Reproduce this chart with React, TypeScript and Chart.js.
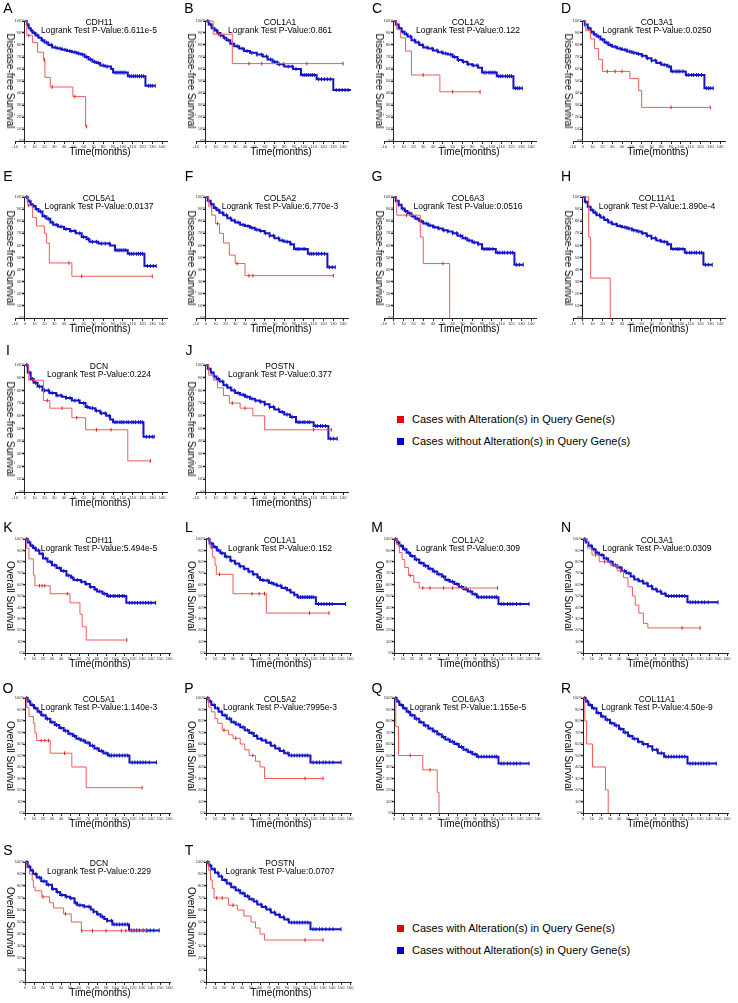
import React, { useEffect, useRef } from "react";
import { Chart, registerables } from "chart.js";
Chart.register(...registerables);

// ---------- tick labels ----------
const dfsXTicks = [-10, 0, 10, 20, 30, 40, 50, 60, 70, 80, 90, 100, 110, 120, 130, 140];
const osXTicks = [0, 10, 20, 30, 40, 50, 60, 70, 80, 90, 100, 110, 120, 130, 140, 150, 160];
const yTicks = [0, 10, 20, 30, 40, 50, 60, 70, 80, 90, 100];

// ---------- panel texts ----------
const letters = ["A","B","C","D","E","F","G","H","I","J","K","L","M","N","O","P","Q","R","S","T"];
const genes = ["CDH11","COL1A1","COL1A2","COL3A1","COL5A1","COL5A2","COL6A3","COL11A1","DCN","POSTN",
  "CDH11","COL1A1","COL1A2","COL3A1","COL5A1","COL5A2","COL6A3","COL11A1","DCN","POSTN"];
const pValues = ["6.611e-5","0.861","0.122","0.0250","0.0137","6.770e-3","0.0516","1.890e-4","0.224","0.377",
  "5.494e-5","0.152","0.309","0.0309","1.140e-3","7995e-3","1.155e-5","4.50e-9","0.229","0.0707"];
const legendLabels = ["Cases with Alteration(s) in Query Gene(s)", "Cases without Alteration(s) in Query Gene(s)"];

// ---------- curves: [time(months), survival %] ; censor times ----------
const A_red = [[0,100],[2,88],[8,82],[13,74],[19,67.5],[20.5,53],[26,45],[49,37],[62,12],[63,12]];
const A_redC = [4,20,28,51,63];
const A_blue = [[0,100],[2,97],[4,94],[6,92],[8,90],[11,88],[14,86],[17,84],[20,82],[24,80],[28,78],[33,77],[38,76],[43,75],[48,74],[53,73],[57,72],[61,70],[65,68],[69,66],[73,65],[77,63],[82,62],[88,60],[90,57],[105,54],[123,46],[133,46]];
const A_blueC = [3,7,10,13,18,22,27,31,36,41,46,51,55,59,63,67,71,75,80,84,92,94,96,98,100,102,107,109,111,113,115,117,119,121,126,128,130,133];

const B_red = [[0,100],[7.5,89],[27,64.5],[140,64.5]];
const B_redC = [13,44,57,103,140];
const B_blue = [[0,100],[3,97],[6,94],[9,92],[12,90],[15,88],[18,86],[21,84],[25,81],[29,79],[34,77],[39,75],[45,73.5],[52,72],[58,70.5],[63,68],[68,66],[73,64],[80,62],[89,60],[97,55],[113,51.5],[130,42.5],[148,42.5]];
const B_blueC = [2,5,8,11,15,19,23,27,32,37,42,47,52,57,62,66,70,75,79,84,88,92,99,101,103,105,107,109,111,115,118,121,124,127,133,136,139,142,145,148];

const C_red = [[0,100],[3,93],[7,86],[12,75],[18,55],[47,41],[88,41]];
const C_redC = [30,60,88];
const C_blue = [[0,100],[2,97],[5,94],[8,91],[11,89],[14,87],[18,84],[22,82],[26,80],[30,78],[35,77],[40,75.5],[45,74],[50,73],[55,72],[60,70],[65,67.5],[70,66],[75,64],[80,63],[86,61],[90,57],[105,54],[122,44],[131,44]];
const C_blueC = [3,6,9,13,17,21,25,29,34,39,44,49,53,58,62,66,71,76,81,85,92,94,97,99,101,103,107,109,111,114,116,118,120,124,126,128,131];

const D_red = [[0,100],[3,92],[8,85],[12,77],[16,68],[20,58],[48,52],[57,42],[60,28],[130,28]];
const D_redC = [25,33,40,90,130];
const D_blue = [[0,100],[2,97],[5,94],[8,91],[11,89],[14,87],[18,84.5],[22,82],[26,80],[30,78.5],[35,77],[40,76],[45,74.5],[50,73.5],[55,72.5],[60,71],[65,69],[70,67],[75,65],[80,63.5],[86,62],[90,58],[105,55],[124,44],[133,44]];
const D_blueC = [2,6,9,12,16,20,24,28,33,38,43,48,52,57,61,66,70,74,79,83,88,92,95,97,99,102,106,108,111,113,116,118,121,126,128,130,133];

const E_red = [[0,100],[3,93],[8,83],[12,76],[20,70],[22,62],[25,45.5],[48,34.5],[130,34.5]];
const E_redC = [4,45,58,130];
const E_blue = [[0,100],[3,96.5],[6,94],[8,92.5],[11,90],[14,88],[18,84],[22,82],[26,79],[29,77],[34,75.5],[40,73.5],[46,72],[52,70],[58,67],[63,65],[66,63],[75,61.5],[87,60],[92,56],[105,53],[122,43],[134,43]];
const E_blueC = [2,5,9,12,16,20,24,28,32,37,42,47,51,56,60,65,69,73,78,82,86,93,95,97,99,101,103,107,109,111,114,116,118,120,125,128,131,134];

const F_red = [[0,100],[3,92],[6,85],[10,78],[14,70],[18,62],[24,52],[30,45],[40,35],[130,35]];
const F_redC = [12,32,44,48,130];
const F_blue = [[0,100],[2,97],[5,94],[8,91],[11,89],[14,87],[18,85],[22,82.5],[26,80.5],[30,79],[35,77],[40,76],[45,74.5],[50,73],[55,72],[60,70],[65,68],[70,66],[75,64],[80,63],[86,61],[90,57],[104,53],[124,42],[132,42]];
const F_blueC = [3,6,10,13,17,21,25,29,33,38,43,47,52,56,61,65,69,74,78,83,87,92,94,96,99,101,106,108,110,113,115,118,121,126,129,132];

const G_red = [[0,100],[3,85],[27,67],[30,45],[57,0]];
const G_redC = [13,50];
const G_blue = [[0,100],[2,97],[5,93.5],[8,90.5],[11,88.5],[14,86.5],[18,84],[22,82],[26,80],[30,78],[35,76.5],[40,75],[45,74],[50,72.5],[55,71.5],[60,70],[65,68],[70,66],[75,64],[80,62.5],[86,61],[90,57],[104,54],[123,44],[132,44]];
const G_blueC = [2,5,9,12,16,20,24,28,33,37,42,46,51,55,60,64,68,73,77,82,86,92,94,96,98,101,106,108,111,113,116,119,121,125,128,132];

const H_red = [[0,100],[6,67],[8,33],[28,0]];
const H_redC = [];
const H_blue = [[0,100],[2,96],[5,92],[8,89],[11,87],[14,85],[18,83],[22,81],[26,79],[30,77.5],[35,76],[40,75],[45,74],[50,72.5],[55,71.5],[60,70],[65,68],[70,66],[75,64],[80,63],[86,61],[90,57],[104,54],[123,44],[132,44]];
const H_blueC = [3,6,10,13,17,21,25,29,34,38,43,47,52,57,61,66,70,74,79,83,87,92,95,97,99,102,106,109,111,114,116,119,121,125,128,132];

const I_red = [[0,100],[4,88],[19,72],[25.5,66],[48,58.5],[62,49],[105,24.5],[128,24.5]];
const I_redC = [8,23,38,53,73,88,128];
const I_blue = [[0,100],[3,94],[6,89],[9,86],[13,83],[18,80],[25,78],[32,76],[38,75],[42,74],[48,72],[56,70],[62,67],[66,66],[72,64],[77,62],[83,60],[87,57],[90,55],[121,43.5],[132,43.5]];
const I_blueC = [2,5,8,11,15,20,24,28,33,37,42,46,51,55,60,64,69,73,78,82,86,92,94,97,99,101,104,106,109,111,113,116,118,120,124,127,130,132];

const J_red = [[0,100],[3,92],[8,88],[12,82],[18,76],[24,70],[35,66],[48,60],[60,49],[128,49]];
const J_redC = [27,40,110,128];
const J_blue = [[0,100],[2,97],[5,94],[8,91],[11,89],[14,87],[18,84],[22,82],[26,80],[30,78],[35,76.5],[40,75],[45,73.5],[50,72],[55,71],[60,69],[65,67],[70,65],[75,63],[80,61],[86,59],[92,55],[110,52],[125,42],[134,42]];
const J_blueC = [3,6,9,13,17,21,25,29,33,38,42,47,51,56,60,65,69,74,78,83,88,94,96,99,101,104,106,112,114,117,119,122,127,130,134];

const K_red = [[0,100],[2,92],[4.4,82.5],[9.3,68.4],[11,59],[28,52],[50,44],[61,34],[63.5,23],[68,11.4],[113,11.4]];
const K_redC = [16,19,22,47,113];
const K_blue = [[0,100],[3,97],[6,94],[9,92],[12,90],[16,87],[20,83],[25,80],[30,77],[35,74.5],[40,72],[46,68],[51,66],[54,64],[62,62.5],[67,60.5],[72,58],[77,56],[80,54],[86,52],[91,50],[112.5,44],[145,44]];
const K_blueC = [2,5,8,11,15,19,23,28,33,38,43,48,53,58,63,68,73,78,83,88,93,95,98,100,103,105,108,110,116,119,122,125,128,131,134,137,140,145];

const L_red = [[0,100],[4.5,92.6],[7.4,84],[10,77],[11.5,69],[30,52],[67,35],[136.6,35]];
const L_redC = [6,15,51,59,65,115,136.6];
const L_blue = [[0,100],[4,96],[8,93],[12,90],[16,87.5],[21,84.5],[27,81],[32,78.5],[37,76],[42,74],[47,71.5],[52,69],[57,66.5],[60,64],[64,63.5],[70,61.5],[75,60],[79,59],[84,57],[90,55],[94,53],[98,51],[101.5,49],[122,43],[155,43]];
const L_blueC = [3,6,10,14,18,23,28,33,38,43,48,53,58,63,68,73,78,83,88,93,98,103,105,107,109,111,113,115,117,119,125,128,131,134,137,140,155];

const M_red = [[0,100],[3,95],[6,88],[9,82],[12,75],[16,68],[22,62],[28,57],[115,57]];
const M_redC = [18,32,40,55,65,80,115];
const M_blue = [[0,100],[3,97],[6,94],[10,91],[14,88],[18,85],[23,82],[28,79],[33,76.5],[38,74],[43,71.5],[48,69],[53,67],[57,64],[62,62.5],[67,60.5],[72,58],[77,56],[82,54],[87,51.5],[92,49],[116,43],[150,43]];
const M_blueC = [2,5,8,12,16,20,25,30,35,40,45,50,55,60,65,70,75,80,85,90,94,97,100,103,106,109,112,114,119,122,126,129,132,136,140,150];

const N_red = [[0,100],[5,92],[10,86],[18,80],[30,77],[38,72],[45,66],[50,58],[55,50],[58,42],[62,35],[67,26],[72,22],[130,22]];
const N_redC = [14,24,34,42,110,130];
const N_blue = [[0,100],[3,97],[6,94],[10,91],[14,88],[18,86],[23,83],[28,80],[33,77],[38,75],[43,72],[48,70],[53,67],[57,64.5],[62,63],[67,61],[72,58.5],[77,56],[82,54],[87,52],[92,50],[116,44.5],[150,44.5]];
const N_blueC = [2,5,9,12,16,21,26,31,36,41,46,51,56,61,66,71,76,81,86,91,95,98,101,104,107,110,113,119,122,125,128,132,135,139,150];

const O_red = [[0,100],[2,91.5],[4.5,84],[9.3,78],[11,69.5],[13,63],[28,52],[52,40],[68,22],[130,22]];
const O_redC = [18,22,26,44,130];
const O_blue = [[0,100],[3,97],[6,94],[10,91],[14,88],[18,85],[23,82],[28,79],[33,76.5],[38,74],[43,71.5],[48,69],[53,67],[57,64.5],[62,63],[67,61],[72,58.5],[77,56],[82,54],[87,52],[92,50],[116,44],[146,44]];
const O_blueC = [2,5,8,12,16,20,25,30,35,40,45,50,55,60,65,70,75,80,85,90,94,96,99,102,105,108,111,114,119,122,125,128,131,134,138,146];

const P_red = [[0,100],[3,92],[6,88],[10,82],[13,78],[18,72],[25,68],[30,65],[38,60],[43,55],[48,50],[55,45],[60,40],[65,30],[130,30]];
const P_redC = [20,33,52,110,130];
const P_blue = [[0,100],[3,97],[6,94],[10,91],[14,88],[18,85],[23,82],[28,79],[33,77],[38,74.5],[43,72],[48,69.5],[53,67],[57,64.5],[62,63],[67,61],[72,58.5],[77,56],[82,54],[87,52],[92,50],[116,44],[150,44]];
const P_blueC = [2,5,9,13,17,21,26,31,36,41,46,51,56,61,66,71,76,81,86,91,95,98,101,104,107,110,113,119,123,126,130,133,137,141,150];

const Q_red = [[0,100],[2,75],[5,50],[32,37.5],[48,18],[50,0]];
const Q_redC = [18,40];
const Q_blue = [[0,100],[3,97],[6,94],[10,91],[14,88],[18,85],[23,82],[28,79],[33,76],[38,73.5],[43,71],[48,68.5],[53,66],[57,64],[62,62],[67,60],[72,57.5],[77,55],[82,53],[87,51],[92,49],[116,43],[150,43]];
const Q_blueC = [2,5,8,12,16,20,25,30,35,40,45,50,55,60,65,70,75,80,85,90,94,97,100,103,106,109,112,114,119,122,126,129,133,136,140,150];

const R_red = [[0,100],[2,80],[4,60],[10.5,40],[25,20],[28,0]];
const R_redC = [];
const R_blue = [[0,100],[3,97],[6,94],[10,91],[15,87],[20,84],[25,81],[30,78],[35,76],[40,73],[45,70],[50,67],[55,64.5],[61,62],[66,60],[72,58],[77,55],[83,52],[90,49],[116,43],[148,43]];
const R_blueC = [2,5,8,12,17,22,27,32,37,42,47,52,57,62,67,72,77,82,87,92,95,98,101,104,107,110,113,119,122,125,128,131,134,137,140,148];

const S_red = [[0,100],[2,95],[5,90],[8,85],[9.3,79],[11.2,76],[18.6,71],[27.2,66],[31.7,61.7],[42.9,56.7],[51.4,50],[62.6,42.7],[136,42.7]];
const S_redC = [20,45,63,75,90,107,112,136];
const S_blue = [[0,100],[3,96],[6,93],[9,90],[13,87],[18,84],[24,81],[30,77.5],[35,75],[39,72.5],[45,71],[50,69.7],[55,66],[58,64],[65,63],[69,62.8],[73,60.5],[76,58.6],[80,56.5],[84,54.4],[88,52.5],[91,51],[97,48],[115.5,43],[149,43]];
const S_blueC = [2,5,8,12,16,21,26,31,36,41,46,51,56,61,66,71,76,81,86,91,96,99,102,105,108,111,114,118,121,124,127,131,135,139,143,149];

const T_red = [[0,100],[3,93],[5,85],[7,78],[9,70],[25,64],[35,60],[42,55],[50,50],[55,45],[60,40],[65,35],[130,35]];
const T_redC = [12,18,30,110,130];
const T_blue = [[0,100],[3,97],[6,94],[10,91],[14,88],[18,85],[23,82],[28,79],[33,76.5],[38,74],[43,71.5],[48,69],[53,67],[57,64.5],[62,62.5],[67,60.5],[72,58],[77,56],[82,54],[87,52],[92,49.5],[116,44],[150,44]];
const T_blueC = [2,5,9,13,17,21,26,31,36,41,46,51,56,61,66,71,76,81,86,91,95,98,101,104,107,110,113,119,122,126,129,133,137,141,150];

const reds = [A_red,B_red,C_red,D_red,E_red,F_red,G_red,H_red,I_red,J_red,K_red,L_red,M_red,N_red,O_red,P_red,Q_red,R_red,S_red,T_red];
const redCens = [A_redC,B_redC,C_redC,D_redC,E_redC,F_redC,G_redC,H_redC,I_redC,J_redC,K_redC,L_redC,M_redC,N_redC,O_redC,P_redC,Q_redC,R_redC,S_redC,T_redC];
const blues = [A_blue,B_blue,C_blue,D_blue,E_blue,F_blue,G_blue,H_blue,I_blue,J_blue,K_blue,L_blue,M_blue,N_blue,O_blue,P_blue,Q_blue,R_blue,S_blue,T_blue];
const blueCens = [A_blueC,B_blueC,C_blueC,D_blueC,E_blueC,F_blueC,G_blueC,H_blueC,I_blueC,J_blueC,K_blueC,L_blueC,M_blueC,N_blueC,O_blueC,P_blueC,Q_blueC,R_blueC,S_blueC,T_blueC];

// ---------- layout (page pixels) ----------
const FONT = '"Liberation Sans", Arial, Helvetica, sans-serif';
const colAxisX = [25, 206, 394, 583];
const rows = [
  { letterY: 8, top: 21, bottom: 141 },
  { letterY: 176, top: 197, bottom: 318 },
  { letterY: 350, top: 365, bottom: 492 },
  { letterY: 527, top: 539, bottom: 653 },
  { letterY: 688, top: 698, bottom: 813 },
  { letterY: 850, top: 862, bottom: 982 },
];
const RED_LINE = "#ef5b5b";
const RED_MARK = "#d42020";
const BLUE = "#1414c8";
const PAD = { left: 20, top: 8, right: 10, bottom: 14 };

function stepAt(curve: number[][], t: number) {
  let v = curve[0][1];
  for (const [ti, si] of curve) {
    if (ti <= t) v = si; else break;
  }
  return v;
}

function KM({ idx }: { idx: number }) {
  const ref = useRef<HTMLCanvasElement>(null);
  const isDFS = idx < 10;
  const j = isDFS ? idx : idx - 10;
  const row = rows[(isDFS ? 0 : 3) + Math.floor(j / 4)];
  const ax = colAxisX[j % 4];
  const xMin = isDFS ? -10 : 0;
  const xMax = isDFS ? 145 : 161;
  const ppm = isDFS ? 0.98 : 0.9;
  const areaLeft = ax + xMin * ppm;
  const areaW = (xMax - xMin) * ppm;
  const areaH = row.bottom - row.top;
  const W = Math.round(areaW + PAD.left + PAD.right);
  const H = Math.round(areaH + PAD.top + PAD.bottom);
  const cLeft = areaLeft - PAD.left;
  const cTop = row.top - PAD.top;

  useEffect(() => {
    const red = reds[idx], blue = blues[idx];
    const xt = isDFS ? dfsXTicks : osXTicks;
    const tickFont = { size: 4, family: FONT };
    const chart = new Chart(ref.current!, {
      type: "line",
      data: {
        datasets: [
          {
            data: redCens[idx].map((t) => ({ x: t, y: stepAt(red, t) })),
            showLine: false, pointStyle: "line", rotation: 90, pointRadius: 1.8,
            borderColor: RED_MARK, backgroundColor: RED_MARK, borderWidth: 1, clip: false,
          },
          {
            data: red.map(([x, y]) => ({ x, y })),
            stepped: true, borderColor: RED_LINE, borderWidth: 1, pointRadius: 0, fill: false, clip: false,
          },
          {
            data: blueCens[idx].map((t) => ({ x: t, y: stepAt(blue, t) })),
            showLine: false, pointStyle: "line", rotation: 90, pointRadius: 2,
            borderColor: BLUE, backgroundColor: BLUE, borderWidth: 1, clip: false,
          },
          {
            data: blue.map(([x, y]) => ({ x, y })),
            stepped: true, borderColor: BLUE, borderWidth: 2, pointRadius: 0, fill: false, clip: false,
          },
        ],
      },
      options: {
        responsive: false,
        animation: false,
        devicePixelRatio: 1,
        events: [],
        layout: { padding: PAD },
        plugins: { legend: { display: false }, tooltip: { enabled: false }, title: { display: false } },
        scales: {
          x: {
            type: "linear",
            position: { y: 0 } as any,
            min: xMin,
            max: xMax,
            afterBuildTicks: (s: any) => { s.ticks = xt.map((v) => ({ value: v })); },
            ticks: { font: tickFont, color: "#333", padding: 1, maxRotation: 0, autoSkip: false },
            grid: { drawOnChartArea: false, tickLength: 2, color: "#222" },
            border: { color: "#222", width: 1 },
          },
          y: {
            type: "linear",
            position: { x: 0 } as any,
            min: 0,
            max: 100,
            afterBuildTicks: (s: any) => { s.ticks = yTicks.map((v) => ({ value: v })); },
            ticks: { font: tickFont, color: "#333", padding: 1, autoSkip: false, callback: (v: any) => v + "%" },
            grid: { drawOnChartArea: false, tickLength: 2, color: "#222" },
            border: { color: "#222", width: 1 },
          },
        },
      } as any,
    });
    return () => chart.destroy();
  }, []);

  const yMid = (row.top + row.bottom) / 2;
  const abs = (x: number, y: number, extra: any = {}) => ({
    position: "absolute" as const, left: x, top: y, transform: "translate(-50%,-50%)", whiteSpace: "nowrap" as const,
    fontFamily: FONT, color: "#000", lineHeight: 1, ...extra,
  });
  return (
    <>
      <canvas ref={ref} width={W} height={H} style={{ position: "absolute", left: cLeft, top: cTop, width: W, height: H }} />
      <div style={abs(ax - 17, row.letterY, { fontSize: 14 })}>{letters[idx]}</div>
      <div style={abs(ax + 74, row.top + 1, { fontSize: 8.5 })}>{genes[idx]}</div>
      <div style={abs(ax + 74, row.top + 9, { fontSize: 8.5 })}>Logrank Test P-Value:{pValues[idx]}</div>
      <div style={abs(ax - 15, yMid, { fontSize: 10, transform: "translate(-50%,-50%) rotate(90deg)" })}>
        {isDFS ? "Disease-free Survival" : "Overall Survival"}
      </div>
      <div style={abs(ax + 75, row.bottom + 10.5, { fontSize: 10 })}>Time(months)</div>
    </>
  );
}

function Legend({ y }: { y: number }) {
  const colors = ["#ee0000", "#0000dd"];
  return (
    <>
      {legendLabels.map((lab, i) => (
        <React.Fragment key={i}>
          <div style={{ position: "absolute", left: 397, top: y + i * 22 - 3.5, width: 7, height: 7, background: colors[i] }} />
          <div style={{ position: "absolute", left: 412, top: y + i * 22, transform: "translateY(-50%)", fontFamily: FONT, fontSize: 11, lineHeight: 1, whiteSpace: "nowrap", color: "#000" }}>{lab}</div>
        </React.Fragment>
      ))}
    </>
  );
}

export default function App() {
  return (
    <div style={{ position: "absolute", left: 0, top: 0, width: 738, height: 1003, background: "#fff", overflow: "hidden" }}>
      {letters.map((_, i) => <KM key={i} idx={i} />)}
      <Legend y={419} />
      <Legend y={928} />
    </div>
  );
}
